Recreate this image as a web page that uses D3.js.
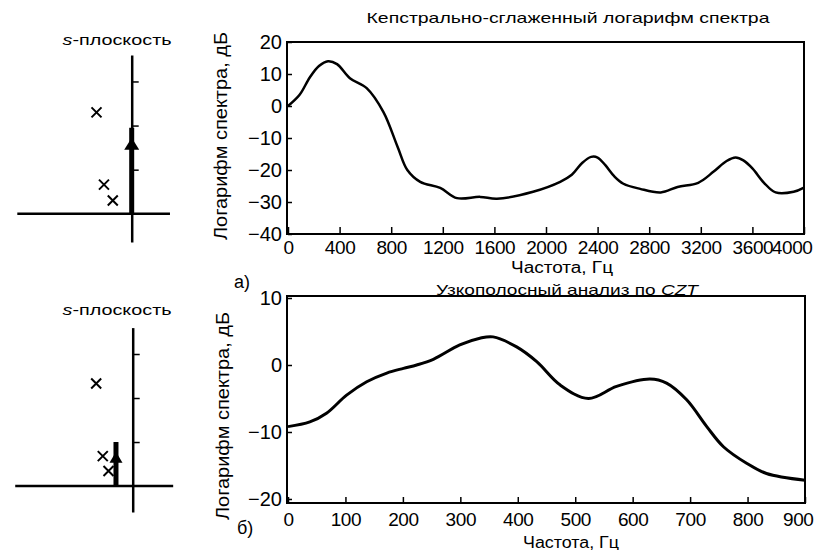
<!DOCTYPE html>
<html>
<head>
<meta charset="utf-8">
<script src="https://cdn.jsdelivr.net/npm/d3@7"></script>
<style>
body { margin: 0; background: #fff; }
svg { font-family: "Liberation Sans", Arial, sans-serif; }
.tick line { stroke: #000; stroke-width: 1.5; }
</style>
</head>
<body>
<script>
// a) cepstrally smoothed log spectrum
var cepFreq = [0, 90, 170, 240, 310, 380, 480, 610, 740, 850, 925, 1025, 1180, 1310, 1490, 1620, 1900, 2110, 2200, 2280, 2350, 2400, 2460, 2530, 2600, 2730, 2890, 3020, 3180, 3300, 3400, 3470, 3530, 3600, 3690, 3780, 3920, 4000];
var cepDb   = [0, 3.5, 9, 12.5, 14, 13.1, 8.7, 5.6, -1.9, -12.8, -20, -23.7, -25.6, -28.8, -28.4, -29, -26.8, -23.7, -21.5, -17.8, -15.9, -16.1, -18.5, -22, -24.3, -25.9, -27, -25.3, -24, -20.5, -17.2, -16.1, -17, -19.5, -24, -27, -26.8, -25.5];
var cepXTicks = [0, 400, 800, 1200, 1600, 2000, 2400, 2800, 3200, 3600, 4000];
var cepYTicks = [20, 10, 0, -10, -20, -30, -40];

// б) narrow band CZT analysis
var cztFreq = [0, 38, 67, 102, 137, 172, 201, 224, 253, 299, 334, 357, 398, 433, 474, 523, 572, 630, 659, 694, 729, 758, 799, 833, 900];
var cztDb   = [-9.2, -8.5, -7.2, -4.5, -2.5, -1.2, -0.5, 0, 0.85, 3, 4, 4.2, 2.7, 0.5, -3, -5, -3.2, -2.1, -2.7, -5.2, -9.2, -12.2, -14.7, -16.2, -17.2];
var cztXTicks = [0, 100, 200, 300, 400, 500, 600, 700, 800, 900];
var cztYTicks = [10, 0, -10, -20];

// s-plane sketches: poles [sigma, omega], contour sigma and extent
var polesA = [[-0.8, 2.3], [-0.63, 0.66], [-0.43, 0.3]];
var polesB = [[-0.83, 2.33], [-0.68, 0.68], [-0.55, 0.34]];
var contourA = {sigma: 0, top: 1.95, head: 1.45};
var contourB = {sigma: -0.38, top: 1.0, head: 0.53};
var omegaTicks = [1, 2, 3];

var svg = d3.select('body').append('svg').attr('width', 817).attr('height', 550);

function fmt(d) { return d < 0 ? '\u2212' + Math.abs(d) : String(d); }

function panel(o) {
  var x = d3.scaleLinear().domain(o.xDom).range(o.xRange);
  var y = d3.scaleLinear().domain(o.yDom).range(o.yRange);
  var g = svg.append('g');
  var last = o.xTicks[o.xTicks.length - 1];

  g.append('g').attr('transform', 'translate(0,' + o.yRange[0] + ')')
    .call(d3.axisBottom(x).tickValues(o.xTicks).tickSizeInner(-o.xTickLen).tickSizeOuter(0).tickPadding(o.xPad).tickFormat(fmt))
    .call(function(a) {
      a.select('.domain').remove();
      a.selectAll('text').attr('font-size', 19).attr('letter-spacing', -0.4)
        .attr('fill', '#000').style('font-family', 'inherit');
      // last label sits inside the page edge, as in the print
      a.selectAll('.tick').filter(function(d) { return d === last; })
        .select('text').attr('text-anchor', 'end').attr('x', 8);
    });

  g.append('g').attr('transform', 'translate(' + o.xRange[0] + ',0)')
    .call(d3.axisLeft(y).tickValues(o.yTicks).tickSizeInner(-4).tickSizeOuter(0).tickPadding(6).tickFormat(fmt))
    .call(function(a) { a.select('.domain').remove(); a.selectAll('text').attr('font-size', 20).attr('fill', '#000').style('font-family', 'inherit'); });

  g.append('rect')
    .attr('x', o.xRange[0] - 1).attr('y', o.yRange[1])
    .attr('width', o.xRange[1] - o.xRange[0] + 1).attr('height', o.yRange[0] - o.yRange[1])
    .attr('fill', 'none').attr('stroke', '#000').attr('stroke-width', 2);

  var line = d3.line()
    .x(function(d, i) { return x(o.freq[i]); })
    .y(function(d) { return y(d); })
    .curve(d3.curveCatmullRom.alpha(0.5));

  g.append('path').attr('d', line(o.db))
    .attr('fill', 'none').attr('stroke', '#000').attr('stroke-width', o.lw)
    .attr('stroke-linejoin', 'round');

  var t = g.append('text').attr('x', o.titleX).attr('y', o.titleY)
    .attr('text-anchor', 'middle').attr('font-size', 15)
    .attr('textLength', o.titleLen).attr('lengthAdjust', 'spacingAndGlyphs');
  t.append('tspan').text(o.title);
  if (o.titleIt) t.append('tspan').attr('font-style', 'italic').text(o.titleIt);

  g.append('text').attr('x', o.xLabX).attr('y', o.xLabY)
    .attr('text-anchor', 'middle').attr('font-size', 16)
    .attr('textLength', o.xLabLen).attr('lengthAdjust', 'spacingAndGlyphs')
    .text('Частота, Гц');

  g.append('text')
    .attr('transform', 'translate(' + o.yLabX + ',' + o.yLabY + ') rotate(-90)')
    .attr('text-anchor', 'middle').attr('font-size', 18)
    .attr('textLength', 208).attr('lengthAdjust', 'spacingAndGlyphs')
    .text('Логарифм спектра, дБ');

  g.append('text').attr('x', o.tagX).attr('y', o.tagY)
    .attr('font-size', 18).text(o.tag);
}

function splane(o) {
  var sx = d3.scaleLinear().domain(o.sDom).range(o.sRange);
  var sy = d3.scaleLinear().domain(o.wDom).range(o.wRange);
  var g = svg.append('g');

  g.append('line')
    .attr('x1', sx(o.sDom[0])).attr('x2', sx(o.sDom[1]))
    .attr('y1', sy(0)).attr('y2', sy(0))
    .attr('stroke', '#000').attr('stroke-width', 2.5);

  g.append('g').attr('transform', 'translate(' + sx(0) + ',0)')
    .call(d3.axisRight(sy).tickValues(omegaTicks).tickSizeInner(7).tickSizeOuter(0).tickFormat(''))
    .call(function(a) { a.select('.domain').attr('stroke-width', 2.5); });

  g.append('line')
    .attr('x1', sx(o.contour.sigma)).attr('x2', sx(o.contour.sigma))
    .attr('y1', sy(0)).attr('y2', sy(o.contour.top))
    .attr('stroke', '#000').attr('stroke-width', 5);

  g.append('path')
    .attr('transform', 'translate(' + sx(o.contour.sigma) + ',' + sy(o.contour.head) + ')')
    .attr('d', 'M0,-' + o.headH + 'L' + o.headW / 2 + ',0L-' + o.headW / 2 + ',0Z')
    .attr('fill', '#000');

  g.selectAll('path.pole').data(o.poles).enter().append('path')
    .attr('class', 'pole')
    .attr('transform', function(d) { return 'translate(' + sx(d[0]) + ',' + sy(d[1]) + ')'; })
    .attr('d', 'M-5,-5L5,5M-5,5L5,-5')
    .attr('stroke', '#000').attr('stroke-width', 2);

  var t = g.append('text').attr('x', o.labX).attr('y', o.labY)
    .attr('text-anchor', 'middle').attr('font-size', 15)
    .attr('textLength', 109).attr('lengthAdjust', 'spacingAndGlyphs');
  t.append('tspan').attr('font-style', 'italic').text('s');
  t.append('tspan').text('-плоскость');
}

panel({
  freq: cepFreq, db: cepDb, xTicks: cepXTicks, yTicks: cepYTicks,
  xDom: [0, 4000], xRange: [288, 804], yDom: [-40, 20], yRange: [234, 42],
  xTickLen: 7, xPad: 7, lw: 2.5,
  title: 'Кепстрально-сглаженный логарифм спектра', titleX: 568, titleY: 23, titleLen: 403,
  xLabX: 562, xLabY: 273, xLabLen: 102, yLabX: 227, yLabY: 136,
  tag: 'а)', tagX: 234, tagY: 288
});

panel({
  freq: cztFreq, db: cztDb, xTicks: cztXTicks, yTicks: cztYTicks,
  xDom: [0, 900], xRange: [288, 805], yDom: [-20.6, 10.3], yRange: [503, 296],
  xTickLen: 6, xPad: 10, lw: 3,
  title: 'Узкополосный анализ по ', titleIt: 'CZT', titleX: 567, titleY: 295, titleLen: 262,
  xLabX: 571, xLabY: 548, xLabLen: 96, yLabX: 229, yLabY: 416,
  tag: 'б)', tagX: 237, tagY: 534
});

splane({
  poles: polesA, contour: contourA,
  sDom: [-2.6, 0.87], sRange: [131.7 - 2.6 * 44, 131.7 + 0.87 * 44],
  wDom: [-0.64, 3.6], wRange: [242, 55],
  headW: 15, headH: 12, labX: 117, labY: 45
});

splane({
  poles: polesB, contour: contourB,
  sDom: [-2.67, 0.92], sRange: [132.7 - 2.67 * 44, 132.7 + 0.92 * 44],
  wDom: [-0.59, 3.6], wRange: [512, 327.6],
  headW: 13, headH: 11, labX: 117, labY: 315
});
</script>
</body>
</html>
